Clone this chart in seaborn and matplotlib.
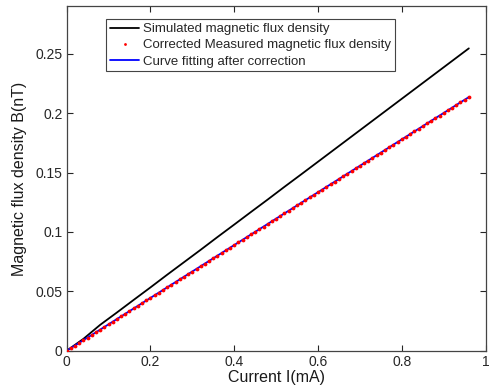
import matplotlib
matplotlib.use("Agg")
import matplotlib.pyplot as plt
import seaborn as sns
import pandas as pd

# Simulated flux density vs. coil current
sim_current = [0.00, 0.04, 0.08, 0.12, 0.16, 0.20, 0.24, 0.28, 0.32, 0.36, 0.40,
               0.44, 0.48, 0.52, 0.56, 0.60, 0.64, 0.68, 0.72, 0.76, 0.80, 0.84,
               0.88, 0.92, 0.96]
sim_flux = [0.0000, 0.0100, 0.0218, 0.0322, 0.0428, 0.0533, 0.0640, 0.0745, 0.0850,
            0.0957, 0.1062, 0.1168, 0.1273, 0.1380, 0.1485, 0.1591, 0.1697, 0.1803,
            0.1909, 0.2015, 0.2121, 0.2227, 0.2333, 0.2439, 0.2545]

# Corrected measurements, one every 0.01 mA
meas_current = [0.00, 0.01, 0.02, 0.03, 0.04, 0.05, 0.06, 0.07, 0.08, 0.09,
                0.10, 0.11, 0.12, 0.13, 0.14, 0.15, 0.16, 0.17, 0.18, 0.19,
                0.20, 0.21, 0.22, 0.23, 0.24, 0.25, 0.26, 0.27, 0.28, 0.29,
                0.30, 0.31, 0.32, 0.33, 0.34, 0.35, 0.36, 0.37, 0.38, 0.39,
                0.40, 0.41, 0.42, 0.43, 0.44, 0.45, 0.46, 0.47, 0.48, 0.49,
                0.50, 0.51, 0.52, 0.53, 0.54, 0.55, 0.56, 0.57, 0.58, 0.59,
                0.60, 0.61, 0.62, 0.63, 0.64, 0.65, 0.66, 0.67, 0.68, 0.69,
                0.70, 0.71, 0.72, 0.73, 0.74, 0.75, 0.76, 0.77, 0.78, 0.79,
                0.80, 0.81, 0.82, 0.83, 0.84, 0.85, 0.86, 0.87, 0.88, 0.89,
                0.90, 0.91, 0.92, 0.93, 0.94, 0.95, 0.96]
meas_flux = [0.0000, 0.0022, 0.0044, 0.0067, 0.0089, 0.0111, 0.0133, 0.0156, 0.0178, 0.0200,
             0.0222, 0.0245, 0.0267, 0.0289, 0.0311, 0.0334, 0.0356, 0.0378, 0.0400, 0.0423,
             0.0445, 0.0467, 0.0489, 0.0512, 0.0534, 0.0556, 0.0578, 0.0600, 0.0623, 0.0645,
             0.0667, 0.0689, 0.0712, 0.0734, 0.0756, 0.0778, 0.0801, 0.0823, 0.0845, 0.0867,
             0.0890, 0.0912, 0.0934, 0.0956, 0.0979, 0.1001, 0.1023, 0.1045, 0.1068, 0.1090,
             0.1112, 0.1134, 0.1156, 0.1179, 0.1201, 0.1223, 0.1245, 0.1268, 0.1290, 0.1312,
             0.1334, 0.1357, 0.1379, 0.1401, 0.1423, 0.1446, 0.1468, 0.1490, 0.1512, 0.1535,
             0.1557, 0.1579, 0.1601, 0.1624, 0.1646, 0.1668, 0.1690, 0.1712, 0.1735, 0.1757,
             0.1779, 0.1801, 0.1824, 0.1846, 0.1868, 0.1890, 0.1913, 0.1935, 0.1957, 0.1979,
             0.2002, 0.2024, 0.2046, 0.2068, 0.2091, 0.2113, 0.2135]

# Linear fit of the corrected data
fit_current = [0.00, 0.96]
fit_flux = [0.0000, 0.2135]

x_ticks = [0, 0.2, 0.4, 0.6, 0.8, 1]
x_tick_labels = ["0", "0.2", "0.4", "0.6", "0.8", "1"]
y_ticks = [0, 0.05, 0.1, 0.15, 0.2, 0.25]
y_tick_labels = ["0", "0.05", "0.1", "0.15", "0.2", "0.25"]

sns.set_style("ticks")
plt.rcParams["font.family"] = ["Liberation Sans", "DejaVu Sans"]

fig = plt.figure(figsize=(4.9, 3.88), dpi=100)
ax = fig.add_axes([0.136, 0.096, 0.855, 0.888])

sim_df = pd.DataFrame({"I": sim_current, "B": sim_flux})
meas_df = pd.DataFrame({"I": meas_current, "B": meas_flux})
fit_df = pd.DataFrame({"I": fit_current, "B": fit_flux})

sns.lineplot(data=sim_df, x="I", y="B", ax=ax, color="black", linewidth=1.3,
             label="Simulated magnetic flux density", sort=False)
sns.lineplot(data=fit_df, x="I", y="B", ax=ax, color="blue", linewidth=1.3,
             label="Curve fitting after correction", sort=False, zorder=2)
sns.lineplot(data=meas_df, x="I", y="B", ax=ax, color="red", linestyle="none",
             marker=".", markersize=5.5, markeredgewidth=0,
             label="Corrected Measured magnetic flux density", sort=False, zorder=3)

ax.set_xlim(0, 1)
ax.set_ylim(0, 0.29)
ax.set_xticks(x_ticks)
ax.set_xticklabels(x_tick_labels)
ax.set_yticks(y_ticks)
ax.set_yticklabels(y_tick_labels)
ax.tick_params(direction="in", top=True, right=True, length=4, width=0.8,
               labelsize=10, colors="#262626", pad=3)
for s in ax.spines.values():
    s.set_visible(True)
    s.set_color("#444444")
    s.set_linewidth(0.9)

ax.set_xlabel("Current I(mA)", fontsize=11.5, color="#1a1a1a", labelpad=1)
ax.set_ylabel("Magnetic flux density B(nT)", fontsize=11.5, color="#1a1a1a", labelpad=6)

handles, labels = ax.get_legend_handles_labels()
order = [0, 2, 1]
leg = ax.legend([handles[i] for i in order], [labels[i] for i in order],
                loc="upper left", bbox_to_anchor=(0.095, 0.963), fontsize=9.5,
                frameon=True, fancybox=False, edgecolor="#444444", framealpha=1,
                handlelength=2.15, handletextpad=0.3, borderpad=0.3,
                labelspacing=0.3, borderaxespad=0)
leg.get_frame().set_linewidth(0.8)
leg.legend_handles[1].set_markersize(4)

fig.savefig("out.png", dpi=100)
